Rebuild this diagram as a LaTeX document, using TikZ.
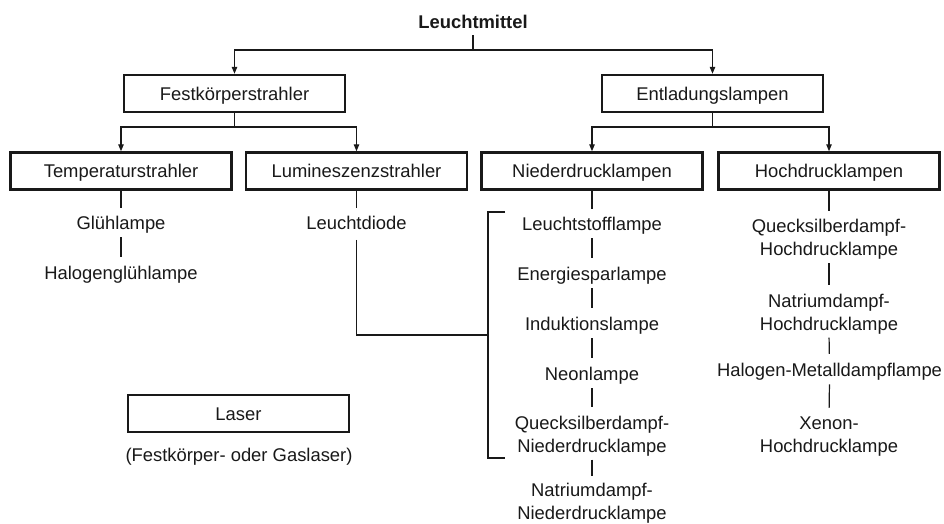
\documentclass[tikz,border=0pt]{standalone}
\usepackage{fontspec}
\setmainfont{Liberation Sans}
\usetikzlibrary{arrows.meta}
\definecolor{ink}{RGB}{25,25,25}
\begin{document}
\begin{tikzpicture}[x=1pt,y=-1pt,
  every node/.style={font=\fontsize{18.4}{23}\selectfont, text=ink},
  box/.style={draw=ink, line width=2.5pt, minimum width=221pt, minimum height=37pt, inner sep=0pt, text height=13.2pt, text depth=0pt},
  item/.style={inner sep=0pt, text height=13.5pt, text depth=4pt},
  itemtwo/.style={inner sep=0pt, align=center},
  link/.style={draw=ink, line width=1.2pt},
  arr/.style={link, -{Triangle[length=7pt,width=5.5pt]}},
  gap/.style={shorten <=3.5pt, shorten >=9pt},
  tobox/.style={shorten >=8pt}]
\fill[white] (0,0) rectangle (944,523);
\useasboundingbox (0,0) rectangle (944,523);

% title and boxes
\node[item, font=\bfseries\fontsize{18.4}{23}\selectfont] (lm) at (473,23.85) {Leuchtmittel};
\node[box] (fk) at (234.5,93.5) {Festkörperstrahler};
\node[box] (el) at (712.5,93.5) {Entladungslampen};
\node[box] (tp) at (121,171) {Temperaturstrahler};
\node[box] (lu) at (356.5,171) {Lumineszenzstrahler};
\node[box] (nd) at (592,171) {Niederdrucklampen};
\node[box] (hd) at (829,171) {Hochdrucklampen};
\node[box] (ls) at (238.5,413.5) {Laser};
\node[item] (lsn) at (239,456.85) {(Festkörper- oder Gaslaser)};

% items
\node[item] (gl) at (121,224.85) {Glühlampe};
\node[item] (hg) at (121,274.85) {Halogenglühlampe};
\node[item] (ld) at (356.5,224.85) {Leuchtdiode};
\node[item] (lst) at (592,225.85) {Leuchtstofflampe};
\node[item] (esl) at (592,275.85) {Energiesparlampe};
\node[item] (ind) at (592,325.85) {Induktionslampe};
\node[item] (neo) at (592,375.85) {Neonlampe};
\node[itemtwo] (qnd) at (592,435.85) {Quecksilberdampf-\\Niederdrucklampe};
\node[itemtwo] (nnd) at (592,502.85) {Natriumdampf-\\Niederdrucklampe};
\node[itemtwo] (qhd) at (829,239.35) {Quecksilberdampf-\\Hochdrucklampe};
\node[itemtwo] (nhd) at (829,313.85) {Natriumdampf-\\Hochdrucklampe};
\node[item] (hmd) at (829.5,371.85) {Halogen-Metalldampflampe};
\node[itemtwo] (xhd) at (829,436.85) {Xenon-\\Hochdrucklampe};

% tree connectors
\coordinate (j0) at (473,50);
\draw[link, shorten <=2.4pt] (lm.south) -- (j0);
\draw[arr] (j0) -| (fk.north);
\draw[arr] (j0) -| (el.north);
\coordinate (j1) at (234.5,127);
\draw[link] (fk.south) -- (j1);
\draw[arr] (j1) -| (tp.north);
\draw[arr] (j1) -| (lu.north);
\coordinate (j2) at (712.5,127);
\draw[link] (el.south) -- (j2);
\draw[arr] (j2) -| (nd.north);
\draw[arr] (j2) -| (hd.north);

% lists
\draw[link, tobox] (tp.south) -- (gl.north);
\draw[link, gap] (gl.south) -- (hg.north);
\draw[link, tobox] (lu.south) -- (ld.north);
\draw[link, tobox] (nd.south) -- (lst.north);
\draw[link, gap] (lst.south) -- (esl.north);
\draw[link, gap] (esl.south) -- (ind.north);
\draw[link, gap] (ind.south) -- (neo.north);
\draw[link, gap] (neo.south) -- (qnd.north);
\draw[link, shorten <=3.5pt, shorten >=7pt] (qnd.south) -- (nnd.north);
\draw[link, tobox] (hd.south) -- (qhd.north);
\draw[link, gap] (qhd.south) -- (nhd.north);
\draw[link, gap] (nhd.south) -- (hmd.north);
\draw[link, gap] (hmd.south) -- (xhd.north);

% bracket from Leuchtdiode
\coordinate (bm) at (488,335);
\coordinate (bt) at (505,212);
\coordinate (bb) at (505,458);
\draw[link, shorten <=6pt] (ld.south) |- (bm);
\draw[link] (bt) -- (bt -| bm) -- (bb -| bm) -- (bb);
\end{tikzpicture}
\end{document}
